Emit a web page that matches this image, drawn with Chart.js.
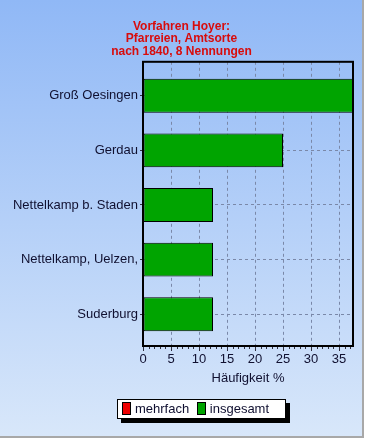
<!DOCTYPE html>
<html>
<head>
<meta charset="utf-8">
<script src="https://cdn.jsdelivr.net/npm/chart.js@4/dist/chart.umd.min.js"></script>
<style>
  body { margin: 0; background: #ffffff; }
  #wrap {
    position: absolute; left: 0; top: 0; width: 362px; height: 436px;
    background: linear-gradient(#90b8f6, #d8e7fa);
    border-right: 2px solid #a8a8a8; border-bottom: 2px solid #a8a8a8;
    font-family: "Liberation Sans", Arial, sans-serif;
  }
  #chart { position: absolute; left: 0; top: 0; }
  #legend {
    position: absolute; left: 117px; top: 399px; width: 167px; height: 18px;
    background: #fff; border: 1px solid #000; box-shadow: 4px 4px 0 #000;
    font-size: 13px; color: #101030; line-height: 18px; white-space: nowrap;
  }
  #legend span.box {
    display: inline-block; width: 7px; height: 11px; border: 1px solid #000;
    vertical-align: -2px; margin: 0 4px 0 4px;
  }
</style>
</head>
<body>
<div id="wrap">
  <canvas id="chart" width="362" height="436"></canvas>
  <div id="legend"></div>
</div>
<script>
const titleLines = ['Vorfahren Hoyer:', 'Pfarreien, Amtsorte', 'nach 1840, 8 Nennungen'];
const places = ['Groß Oesingen', 'Gerdau', 'Nettelkamp b. Staden', 'Nettelkamp, Uelzen,', 'Suderburg'];
const mehrfach = [0, 0, 0, 0, 0];
const insgesamt = [37.5, 25, 12.5, 12.5, 12.5];
const seriesNames = ['mehrfach', 'insgesamt'];
const seriesColors = ['#ee0000', '#00a400'];
const xTicks = [0, 5, 10, 15, 20, 25, 30, 35];
const xMax = 37.5;

const textColor = '#101030';
const gridColor = '#7a88a8';
const font = '"Liberation Sans", Arial, sans-serif';

// small ticks under the x axis, every 1 unit, plus black frame round the plot
const framePlugin = {
  id: 'frame',
  afterDraw(chart) {
    const ctx = chart.ctx;
    const a = chart.chartArea;
    const x = chart.scales.x;
    ctx.save();
    ctx.strokeStyle = '#303040';
    ctx.lineWidth = 1;
    ctx.beginPath();
    for (let v = 0; v <= xMax; v++) {
      if (xTicks.includes(v)) continue;
      const px = Math.round(x.getPixelForValue(v)) + 0.5;
      ctx.moveTo(px, a.bottom);
      ctx.lineTo(px, a.bottom + 3);
    }
    ctx.stroke();
    ctx.strokeStyle = '#000';
    ctx.lineWidth = 2;
    ctx.strokeRect(a.left, a.top, a.right - a.left, a.bottom - a.top);
    ctx.restore();
  }
};

const toPoints = arr => arr.map((v, i) => ({ x: v, y: i }));

const chart = new Chart(document.getElementById('chart'), {
  type: 'bar',
  data: {
    datasets: [
      { label: seriesNames[0], data: toPoints(mehrfach), backgroundColor: seriesColors[0], borderWidth: 0 },
      { label: seriesNames[1], data: toPoints(insgesamt), backgroundColor: seriesColors[1], borderColor: '#000', borderWidth: 1, borderSkipped: false }
    ]
  },
  options: {
    indexAxis: 'y',
    responsive: false,
    animation: false,
    datasets: { bar: { categoryPercentage: 1, barPercentage: 0.62 } },
    layout: { padding: { top: 20, right: 9, left: 10, bottom: 50 } },
    plugins: {
      legend: { display: false },
      tooltip: { enabled: false },
      title: {
        display: true,
        text: titleLines,
        color: '#d80c0c',
        font: { family: font, size: 12, weight: 'bold', lineHeight: 1.05 },
        padding: { top: 0, bottom: 4 }
      }
    },
    scales: {
      x: {
        type: 'linear',
        stacked: true,
        min: 0,
        max: xMax,
        afterBuildTicks(scale) {
          scale.ticks = xTicks.map(v => ({ value: v }));
        },
        afterFit(scale) { scale.height = 40; },
        ticks: {
          color: textColor,
          padding: 1,
          font: { family: font, size: 13 }
        },
        grid: {
          color: gridColor,
          tickColor: '#303040',
          tickLength: 5
        },
        border: { display: false, dash: [3, 3] },
        title: {
          display: true,
          text: 'Häufigkeit %',
          color: textColor,
          font: { family: font, size: 13 },
          padding: { top: 0, bottom: 0 }
        }
      },
      y: {
        type: 'linear',
        stacked: true,
        reverse: true,
        offset: false,
        min: -0.62,
        max: places.length - 1 + 0.58,
        afterBuildTicks(scale) {
          scale.ticks = places.map((p, i) => ({ value: i }));
        },
        afterFit(scale) { scale.width = 133; },
        ticks: {
          color: textColor,
          padding: 2,
          font: { family: font, size: 13 },
          callback: v => places[v]
        },
        grid: {
          offset: false,
          color: gridColor,
          tickColor: '#303040',
          tickLength: 3
        },
        border: { display: false, dash: [3, 3] }
      }
    }
  },
  plugins: [framePlugin]
});

const legend = document.getElementById('legend');
seriesNames.forEach((name, i) => {
  legend.innerHTML += `<span class="box" style="background:${seriesColors[i]}"></span>${name} `;
});
</script>
</body>
</html>
